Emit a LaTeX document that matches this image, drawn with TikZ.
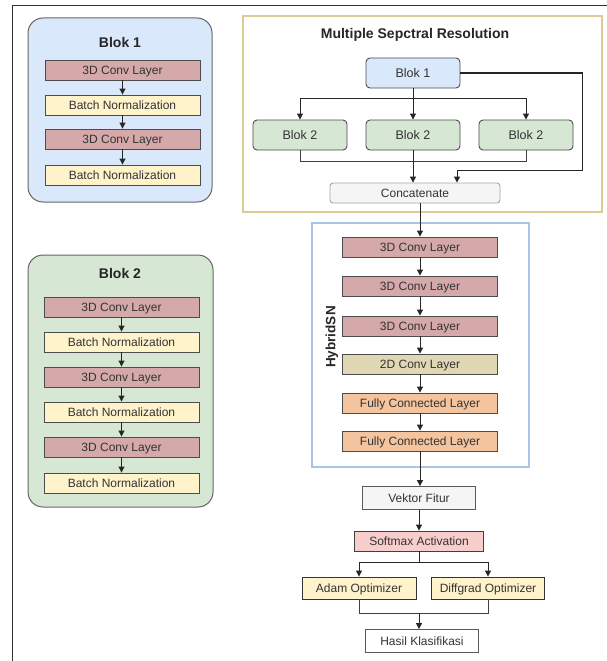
\documentclass[tikz,border=0pt]{standalone}
\usepackage{fontspec}
\setmainfont{Liberation Sans}
\usetikzlibrary{arrows.meta}
\definecolor{convc}{HTML}{D5A9A9}
\definecolor{bnc}{HTML}{FFF3CC}
\definecolor{blueb}{HTML}{DAE8FC}
\definecolor{greenb}{HTML}{D6E8D4}
\definecolor{twodc}{HTML}{E0D7B4}
\definecolor{fcc}{HTML}{F4C49E}
\definecolor{smc}{HTML}{F8CECC}
\definecolor{goldb}{HTML}{DCCB94}
\definecolor{hybb}{HTML}{A8C6E4}
\definecolor{txt}{HTML}{333333}
\tikzset{
  layer/.style={draw=black!70, line width=0.9pt, minimum width=155pt, minimum height=20pt, inner sep=0pt, text height=8.6pt, text depth=0pt, font=\fontsize{12}{14}\selectfont, text=txt},
  conv/.style={layer, fill=convc},
  bn/.style={layer, fill=bnc},
  twod/.style={layer, fill=twodc},
  fc/.style={layer, fill=fcc},
  cont/.style={draw=black!60, line width=1pt, rounded corners=15pt, inner sep=0pt},
  ttl/.style={font=\bfseries\fontsize{14}{16}\selectfont, text=black!85},
  small/.style={draw=black!70, line width=0.9pt, rounded corners=4pt, minimum width=94pt, minimum height=30pt, inner sep=0pt, text height=9pt, text depth=0pt, font=\fontsize{12.5}{14}\selectfont, text=txt},
  plain/.style={draw=black!65, line width=0.9pt, inner sep=0pt, text height=8.6pt, text depth=0pt, font=\fontsize{12}{14}\selectfont, text=txt},
  arr/.style={-{Triangle[width=6pt,length=6pt]}, line width=1pt, draw=black!85},
  ln/.style={line width=1pt, draw=black!75},
}
\begin{document}
\begin{tikzpicture}[x=1pt,y=-1pt]
\useasboundingbox (0,0) rectangle (607,661);
\fill[white] (0,0) rectangle (607,661);
% outer frame
\draw[line width=1pt, black!80] (12,661) -- (12,6) -- (607,6);

% Blok 1 definition
\node[cont, fill=blueb, minimum width=184pt, minimum height=184pt] (blk1) at (120,110) {};
\node[ttl] (blk1t) at (120,42) {Blok 1};
\node[conv] (a1) at (122.5,70) {3D Conv Layer};
\node[bn]   (a2) at (122.5,105) {Batch Normalization};
\node[conv] (a3) at (122.5,139) {3D Conv Layer};
\node[bn]   (a4) at (122.5,175) {Batch Normalization};
\draw[arr] (a1) -- (a2);
\draw[arr] (a2) -- (a3);
\draw[arr] (a3) -- (a4);

% Blok 2 definition
\node[cont, fill=greenb, minimum width=185pt, minimum height=252pt] (blk2) at (120.5,381) {};
\node[ttl] (blk2t) at (120,273) {Blok 2};
\node[conv] (c1) at (121.5,307) {3D Conv Layer};
\node[bn]   (c2) at (121.5,342) {Batch Normalization};
\node[conv] (c3) at (121.5,377) {3D Conv Layer};
\node[bn]   (c4) at (121.5,412) {Batch Normalization};
\node[conv] (c5) at (121.5,447) {3D Conv Layer};
\node[bn]   (c6) at (121.5,483) {Batch Normalization};
\draw[arr] (c1) -- (c2);
\draw[arr] (c2) -- (c3);
\draw[arr] (c3) -- (c4);
\draw[arr] (c4) -- (c5);
\draw[arr] (c5) -- (c6);

% Multiple Spectral Resolution
\node[draw=goldb, line width=2pt, minimum width=359pt, minimum height=196pt, inner sep=0pt] (msr) at (422.5,114) {};
\node[ttl] (msrt) at (415,35) {Multiple Sepctral Resolution};
\node[small, fill=blueb] (mb1) at (413,73) {Blok 1};
\node[small, fill=greenb] (m21) at (300,135) {Blok 2};
\node[small, fill=greenb] (m22) at (413,135) {Blok 2};
\node[small, fill=greenb] (m23) at (526,135) {Blok 2};
\node[plain, draw=black!35, fill=black!4, rounded corners=3pt, minimum width=170pt, minimum height=20pt] (cat) at (415,193) {Concatenate};
\coordinate (cr) at (582,170);
\draw[arr] (mb1.south) -- (m22.north);
\draw[arr] (mb1.south) -- ++(0,10) -| (m21.north);
\draw[arr] (mb1.south) -- ++(0,10) -| (m23.north);
\draw[arr] (mb1.east) -| (cr) -| ([xshift=42pt]cat.north);
\draw[ln] (m21.south) -- ++(0,11) -| (m23.south);
\draw[arr] (m22.south) -- (m22.south |- cat.north);

% HybridSN
\node[draw=hybb, line width=1.6pt, minimum width=217pt, minimum height=244pt, inner sep=0pt] (hyb) at (420.5,345) {};
\node[font=\bfseries\fontsize{13.5}{15}\selectfont, text=black!85, rotate=90] (hybt) at (332,337) {HybridSN};
\node[conv] (h1) at (420,247) {3D Conv Layer};
\node[conv] (h2) at (420,286) {3D Conv Layer};
\node[conv] (h3) at (420,326) {3D Conv Layer};
\node[twod] (h4) at (420,364) {2D Conv Layer};
\node[fc]   (h5) at (420,403) {Fully Connected Layer};
\node[fc]   (h6) at (420,441) {Fully Connected Layer};
\draw[arr] (cat.south -| h1.north) -- (h1.north);
\draw[arr] (h1) -- (h2);
\draw[arr] (h2) -- (h3);
\draw[arr] (h3) -- (h4);
\draw[arr] (h4) -- (h5);
\draw[arr] (h5) -- (h6);

% Output part
\node[plain, fill=black!4, minimum width=113pt, minimum height=23pt] (vf) at (419,498) {Vektor Fitur};
\node[plain, draw=black!75, fill=smc, minimum width=129pt, minimum height=20pt] (sm) at (419,541) {Softmax Activation};
\node[plain, draw=black!80, fill=bnc, minimum width=114pt, minimum height=22pt] (adam) at (359,588) {Adam Optimizer};
\node[plain, draw=black!80, fill=bnc, minimum width=113pt, minimum height=22pt] (diff) at (488,588) {Diffgrad Optimizer};
\node[plain, fill=white, minimum width=113pt, minimum height=23pt] (hasil) at (422,641) {Hasil Klasifikasi};
\draw[arr] (h6.south) -- (h6.south |- vf.north);
\draw[arr] (vf) -- (vf |- sm.north);
\draw[arr] (sm.south) -- ++(0,11) -| (adam.north);
\draw[arr] (sm.south) -- ++(0,11) -| (diff.north);
\draw[ln] (adam.south) -- ++(0,14) -| (diff.south);
\coordinate (jn) at (419,613);
\draw[arr] (jn) -- (jn |- hasil.north);
\end{tikzpicture}
\end{document}
